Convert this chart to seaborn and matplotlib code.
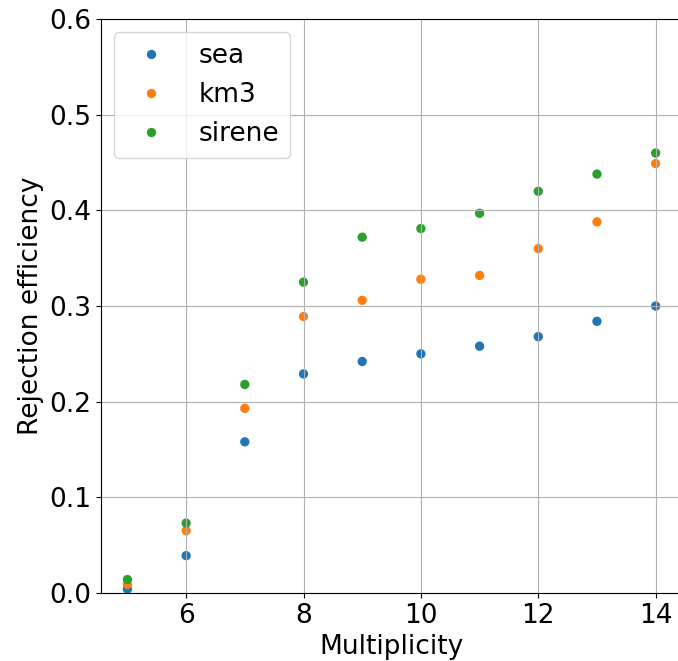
import matplotlib
matplotlib.use('Agg')
import matplotlib.pyplot as plt
import seaborn as sns
import pandas as pd

multiplicity = [5, 6, 7, 8, 9, 10, 11, 12, 13, 14]
sea = [0.004, 0.039, 0.158, 0.229, 0.242, 0.250, 0.258, 0.268, 0.284, 0.300]
km3 = [0.009, 0.065, 0.193, 0.289, 0.306, 0.328, 0.332, 0.360, 0.388, 0.449]
sirene = [0.014, 0.073, 0.218, 0.325, 0.372, 0.381, 0.397, 0.420, 0.438, 0.460]

df = pd.DataFrame({
    'Multiplicity': multiplicity * 3,
    'Rejection efficiency': sea + km3 + sirene,
    'source': ['sea'] * 10 + ['km3'] * 10 + ['sirene'] * 10,
})

plt.rcParams['font.size'] = 19
fig = plt.figure(figsize=(6.78, 6.61), dpi=100)
# right spine falls just outside the picture, as in the original crop
ax = fig.add_axes([0.149, 0.103, 0.857, 0.868])
sns.scatterplot(data=df, x='Multiplicity', y='Rejection efficiency', hue='source',
                palette=['#1f77b4', '#ff7f0e', '#2ca02c'], s=45, linewidth=0, ax=ax)
ax.set_ylim(0, 0.6)
ax.set_xticks([6, 8, 10, 12, 14])
ax.grid(True, color='#b0b0b0', linewidth=0.8)
ax.legend(loc='upper left', fontsize=19, markerscale=1.0)
ax.set_xlabel('Multiplicity', fontsize=19)
ax.set_ylabel('Rejection efficiency', fontsize=19)
plt.savefig('out.png', dpi=100)
